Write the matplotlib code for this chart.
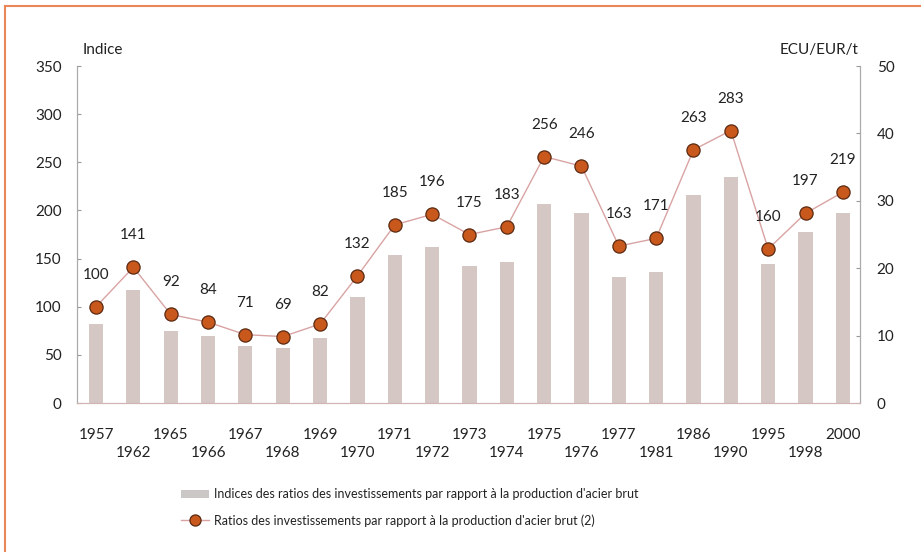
import matplotlib
matplotlib.use("Agg")
import matplotlib.pyplot as plt
from matplotlib.lines import Line2D
from matplotlib.patches import Patch

years = ["1957", "1962", "1965", "1966", "1967", "1968", "1969", "1970", "1971",
         "1972", "1973", "1974", "1975", "1976", "1977", "1981", "1986", "1990",
         "1995", "1998", "2000"]
# index (1957 = 100), left axis
indices = [100, 141, 92, 84, 71, 69, 82, 132, 185, 196, 175, 183, 256, 246,
           163, 171, 263, 283, 160, 197, 219]
# investment per tonne of crude steel, right axis
ratios = [11.7, 16.7, 10.7, 9.9, 8.4, 8.1, 9.6, 15.7, 21.9, 23.2, 20.4, 20.9,
          29.6, 28.2, 18.7, 19.4, 30.9, 33.6, 20.6, 25.4, 28.2]

label_bars = "Indices des ratios des investissements par rapport à la production d'acier brut"
label_line = "Ratios des investissements par rapport à la production d'acier brut (2)"

plt.rcParams["font.family"] = ["Lato", "DejaVu Sans"]
TXT = "#222222"
BAR = "#d5c8c4"
DOT = "#c8581c"
FS = 11

fig = plt.figure(figsize=(9.21, 5.52), dpi=100)
ax = fig.add_axes([0.0836, 0.2699, 0.8502, 0.6105])
ax2 = ax.twinx()

x = list(range(len(years)))

# bars on the right-hand scale
ax2.bar(x, ratios, width=0.38, color=BAR, zorder=1)
ax2.set_ylim(0, 50)
ax2.set_yticks(range(0, 51, 10))

# index line on the left-hand scale, kept above the bars
ax.set_zorder(ax2.get_zorder() + 1)
ax.patch.set_visible(False)
ax.plot(x, indices, color="#d9a3a3", lw=1.0, zorder=2)
ax.plot(x, indices, "o", ms=9.5, mfc=DOT, mec="#5a2a12", mew=0.9, zorder=3)
for xi, v in zip(x, indices):
    ax.annotate(str(v), (xi, v), xytext=(0, 23), textcoords="offset points",
                ha="center", va="center", fontsize=FS, color=TXT)

ax.set_ylim(0, 350)
ax.set_yticks(range(0, 351, 50))
ax.set_xlim(-0.51, 20.46)

# staggered year labels
ax.set_xticks(x)
ax.set_xticklabels([y if i % 2 == 0 else "\n" + y for i, y in enumerate(years)])
for t in ax.get_xticklabels():
    t.set_linespacing(1.4)
ax.tick_params(axis="x", length=0, pad=18, labelsize=FS, labelcolor=TXT)
ax.tick_params(axis="y", direction="in", length=3, color="#999999", pad=11,
               labelsize=FS, labelcolor=TXT)
ax2.tick_params(axis="y", direction="in", length=3, color="#999999", pad=12,
                labelsize=FS, labelcolor=TXT)

for a in (ax, ax2):
    a.spines["top"].set_visible(False)
    a.spines["left"].set_color("#aaaaaa")
    a.spines["right"].set_color("#aaaaaa")
    a.spines["bottom"].set_color("#d2b4b4")
    a.spines["left"].set_linewidth(0.8)
    a.spines["right"].set_linewidth(0.8)
    a.spines["bottom"].set_linewidth(0.8)

fig.text(83 / 921, 1 - 50 / 552, "Indice", fontsize=FS, color=TXT, va="center", ha="left")
fig.text(858 / 921, 1 - 50 / 552, "ECU/EUR/t", fontsize=FS, color=TXT, va="center", ha="right")

handles = [Patch(facecolor="#cbc7c7", edgecolor="none"),
           Line2D([0], [0], color="#d9a3a3", lw=1.0, marker="o", ms=8,
                  mfc=DOT, mec="#5a2a12", mew=0.9)]
fig.legend(handles, [label_bars, label_line], loc="upper left",
           bbox_to_anchor=(170 / 921, 1 - 477 / 552), frameon=False,
           fontsize=9, handlelength=2.2, handleheight=0.7, handletextpad=0.45,
           labelspacing=1.1, labelcolor=TXT)

# orange frame edges
fig.add_artist(Line2D([5 / 921, 5 / 921], [0, 1 - 6 / 552], color="#e8875a", lw=1.5))
fig.add_artist(Line2D([5 / 921, 1], [1 - 6 / 552, 1 - 6 / 552], color="#e8875a", lw=1.5))

fig.savefig("out.png", dpi=100)
